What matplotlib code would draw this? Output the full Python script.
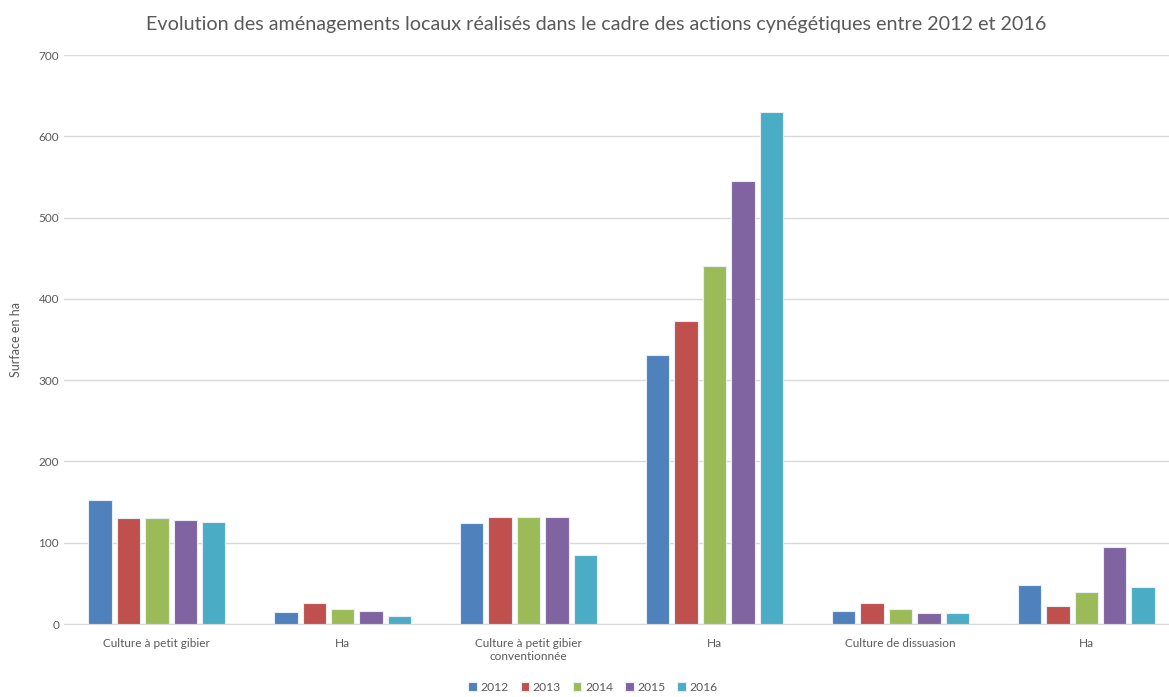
import numpy as np
import matplotlib.pyplot as plt

plt.rcParams['font.family'] = ['Lato', 'DejaVu Sans']

categories = ["Culture à petit gibier", "Ha", "Culture à petit gibier\nconventionnée",
              "Ha", "Culture de dissuasion", "Ha"]
years = ["2012", "2013", "2014", "2015", "2016"]
values = {
    "2012": [152, 15, 124, 331, 16, 48],
    "2013": [130, 26, 132, 373, 26, 22],
    "2014": [130, 18, 132, 440, 18, 39],
    "2015": [128, 16, 132, 545, 14, 95],
    "2016": [126, 10, 85, 630, 14, 45],
}
colors = ["#4F81BD", "#C0504D", "#9BBB59", "#8064A2", "#4BACC6"]

fig = plt.figure(figsize=(11.69, 6.97), dpi=100)
ax = fig.add_axes([0.0547, 0.1047, 0.954, 0.8163])

x = np.arange(len(categories))
step = 0.153
width = 0.126
for i, y in enumerate(years):
    ax.bar(x + (i - 2) * step, values[y], width, color=colors[i],
           edgecolor='#e8eef6', linewidth=0.8, label=y, zorder=3)

ax.set_xlim(-0.5, len(categories) - 0.5)
ax.set_ylim(0, 700)
ax.set_yticks(range(0, 701, 100))
ax.yaxis.grid(True, color='#d9d9d9', linewidth=1, zorder=0)
for s in ['top', 'right', 'left']:
    ax.spines[s].set_visible(False)
ax.spines['bottom'].set_color('#d9d9d9')
ax.tick_params(axis='both', length=0, labelsize=8.5, colors='#595959')
ax.tick_params(axis='x', pad=10)
ax.set_xticks(x)
ax.set_xticklabels(categories)
ax.set_ylabel("Surface en ha", fontsize=9, color='#595959', labelpad=12)

fig.text(0.51, 0.965, "Evolution des aménagements locaux réalisés dans le cadre des actions cynégétiques entre 2012 et 2016",
         ha='center', va='center', fontsize=14.2, color='#595959')

ax.legend(loc='lower center', bbox_to_anchor=(0.5 - 0.0257, -0.14), ncol=5, frameon=False,
          fontsize=8.7, handlelength=0.7, handleheight=0.7, handletextpad=0.3,
          columnspacing=1.0, labelcolor='#595959')

fig.savefig("out.png", dpi=100)
